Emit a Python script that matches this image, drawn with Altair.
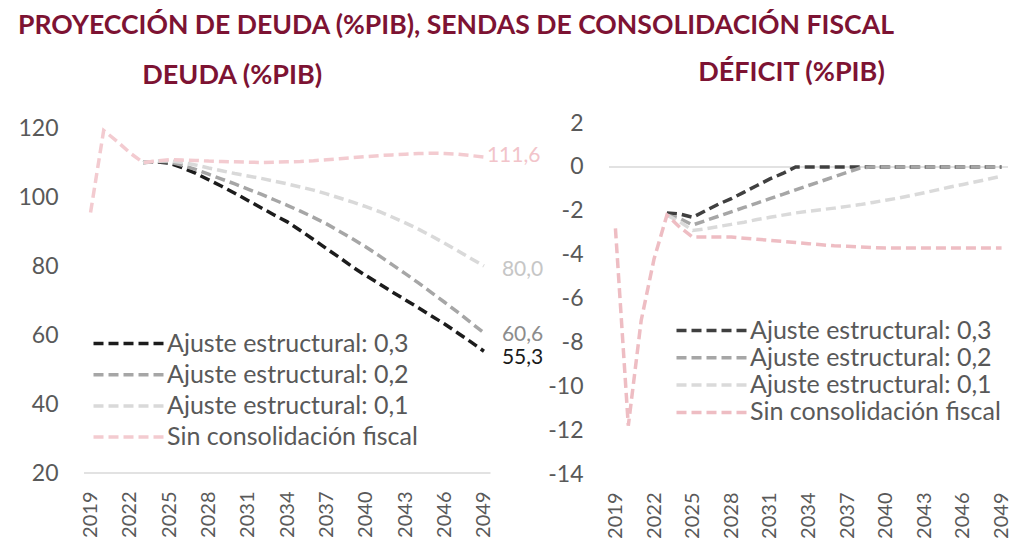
import altair as alt
import pandas as pd

# ---------------- data ----------------
years = list(range(2019, 2050))
adj_years = list(range(2023, 2050))
x_ticks = [2019, 2022, 2025, 2028, 2031, 2034, 2037, 2040, 2043, 2046, 2049]

series_names = [
    "Ajuste estructural: 0,3",
    "Ajuste estructural: 0,2",
    "Ajuste estructural: 0,1",
    "Sin consolidación fiscal",
]

# Deuda (%PIB)
debt_sin = [95.5, 119.3, 116.2, 112.8, 110.0, 110.4, 110.8, 110.7, 110.6, 110.4,
            110.3, 110.2, 110.1, 110.0, 110.1, 110.2, 110.3, 110.5, 110.8, 111.1,
            111.4, 111.7, 112.0, 112.2, 112.4, 112.6, 112.7, 112.6, 112.4, 112.0, 111.6]
debt_01 = [110.0, 110.4, 110.5, 110.0, 109.3, 108.4, 107.6, 106.8, 106.1, 105.4,
           104.6, 103.8, 102.9, 102.0, 100.9, 99.7, 98.5, 97.2, 95.8, 94.2,
           92.5, 90.7, 88.7, 86.6, 84.4, 82.2, 80.0]
debt_02 = [110.0, 110.3, 110.2, 109.2, 108.0, 106.6, 105.2, 103.8, 102.3, 100.8,
           99.2, 97.6, 95.9, 94.1, 92.2, 90.0, 87.8, 85.5, 83.0, 80.4,
           77.8, 75.1, 72.3, 69.5, 66.6, 63.6, 60.6]
debt_03 = [110.0, 110.2, 109.8, 108.5, 106.9, 105.0, 103.1, 101.1, 99.0, 96.9,
           94.8, 92.8, 90.3, 87.7, 85.0, 82.4, 79.7, 77.2, 74.9, 72.5,
           70.2, 67.9, 65.5, 63.2, 60.6, 58.0, 55.3]

# Déficit (%PIB)
def_sin = [-2.8, -11.8, -7.0, -4.2, -2.2, -2.75, -3.2, -3.2, -3.2, -3.2,
           -3.25, -3.3, -3.35, -3.4, -3.45, -3.5, -3.55, -3.6, -3.62, -3.65,
           -3.68, -3.7, -3.7, -3.7, -3.7, -3.7, -3.7, -3.7, -3.7, -3.7, -3.7]
def_01 = [-2.2, -2.5, -2.9, -2.82, -2.72, -2.62, -2.52, -2.4, -2.3, -2.2,
          -2.1, -2.02, -1.95, -1.88, -1.8, -1.72, -1.62, -1.52, -1.42, -1.3,
          -1.18, -1.05, -0.92, -0.8, -0.68, -0.55, -0.42]
def_02 = [-2.2, -2.35, -2.65, -2.45, -2.25, -2.05, -1.85, -1.65, -1.45, -1.25,
          -1.05, -0.85, -0.65, -0.45, -0.25, -0.05, 0.0, 0.0, 0.0, 0.0,
          0.0, 0.0, 0.0, 0.0, 0.0, 0.0, 0.0]
def_03 = [-2.1, -2.15, -2.3, -2.0, -1.7, -1.45, -1.15, -0.85, -0.55, -0.3,
          0.0, 0.0, 0.0, 0.0, 0.0, 0.0, 0.0, 0.0, 0.0, 0.0,
          0.0, 0.0, 0.0, 0.0, 0.0, 0.0, 0.0]


def long_df(parts):
    rows = []
    for name, yrs, vals in parts:
        for yr, v in zip(yrs, vals):
            rows.append({"serie": name, "year": yr, "value": v})
    return pd.DataFrame(rows)


debt_df = long_df([
    (series_names[0], adj_years, debt_03),
    (series_names[1], adj_years, debt_02),
    (series_names[2], adj_years, debt_01),
    (series_names[3], years, debt_sin),
])
def_df = long_df([
    (series_names[0], adj_years, def_03),
    (series_names[1], adj_years, def_02),
    (series_names[2], adj_years, def_01),
    (series_names[3], years, def_sin),
])

# ---------------- style ----------------
FONT = "Lato"
MAROON = "#7d1333"
AXIS_GREY = "#595959"
left_colors = ["#1c1c1c", "#a6a6a6", "#d9d9d9", "#f3cbd0"]
right_colors = ["#404040", "#a6a6a6", "#dadada", "#eebdc3"]
DASH = [10, 5]


def x_enc():
    return alt.X(
        "year:Q",
        scale=alt.Scale(domain=[2018.5, 2049.5], nice=False, zero=False),
        axis=alt.Axis(values=x_ticks, format="d", labelAngle=270, labelFontSize=20,
                      labelColor=AXIS_GREY, labelFont=FONT, ticks=False, grid=False,
                      labelPadding=18, title=None, domain=False),
    )


def legend(x, y, row_pad):
    return alt.Legend(
        title=None, orient="none", legendX=x, legendY=y,
        symbolType="M-5,0L5,0", symbolSize=196, symbolStrokeWidth=3.5,
        symbolDash=DASH, symbolFillColor="transparent",
        labelFontSize=25, labelColor=AXIS_GREY, labelFont=FONT,
        labelOffset=26, rowPadding=row_pad, padding=0, labelLimit=600,
    )


# ---------------- left panel: deuda ----------------
left_lines = alt.Chart(debt_df).mark_line(strokeWidth=3.5, strokeDash=DASH).encode(
    x=x_enc(),
    y=alt.Y("value:Q", scale=alt.Scale(domain=[20, 121.45], nice=False, zero=False),
            axis=alt.Axis(values=[20, 40, 60, 80, 100, 120], labelFontSize=23,
                          labelColor=AXIS_GREY, labelFont=FONT, ticks=False,
                          domain=False, grid=False, labelPadding=26, title=None)),
    color=alt.Color("serie:N", scale=alt.Scale(domain=series_names, range=left_colors),
                    legend=legend(32, 208, 5.2)),
)

base_line = alt.Chart(pd.DataFrame({"value": [20]})).mark_rule(
    color="#d9d9d9", strokeWidth=1.5).encode(y="value:Q")

end_specs = [
    (debt_sin, "#f2c4ca", 3, -1),
    (debt_01, "#c6c6c6", 18, 4),
    (debt_02, "#8c8c8c", 18, 2),
    (debt_03, "#1a1a1a", 18, 7),
]
end_layers = []
for vals, col, dx, dy in end_specs:
    d = pd.DataFrame({"year": [2049], "value": [vals[-1]],
                      "label": [f"{vals[-1]:.1f}".replace(".", ",")]})
    end_layers.append(
        alt.Chart(d).mark_text(align="left", baseline="middle", dx=dx, dy=dy,
                               fontSize=21, font=FONT, color=col)
        .encode(x="year:Q", y="value:Q", text="label:N")
    )

left = alt.layer(base_line, left_lines, *end_layers).properties(
    width=406.5, height=350,
    title=alt.TitleParams("DEUDA (%PIB)", anchor="middle", frame="group", dx=-55,
                          fontSize=27, font=FONT, fontWeight="bold", color=MAROON,
                          offset=27.5),
)

# ---------------- right panel: déficit ----------------
zero_line = alt.Chart(pd.DataFrame({"value": [0]})).mark_rule(
    color="#d9d9d9", strokeWidth=1.5).encode(y="value:Q")

right_lines = alt.Chart(def_df).mark_line(strokeWidth=3.5, strokeDash=DASH).encode(
    x=x_enc(),
    y=alt.Y("value:Q", scale=alt.Scale(domain=[-14, 2], nice=False, zero=False),
            axis=alt.Axis(values=list(range(-14, 3, 2)), labelFontSize=23,
                          labelExpr="'' + datum.value",
                          labelColor=AXIS_GREY, labelFont=FONT, ticks=False,
                          domain=False, grid=False, labelPadding=26, title=None)),
    color=alt.Color("serie:N", scale=alt.Scale(domain=series_names, range=right_colors),
                    legend=legend(90, 195, 1.3)),
)

right = alt.layer(zero_line, right_lines).properties(
    width=399, height=351,
    title=alt.TitleParams("DÉFICIT (%PIB)", anchor="middle", frame="group", dx=-17,
                          fontSize=27, font=FONT, fontWeight="bold", color=MAROON,
                          offset=25.5),
)

chart = alt.hconcat(left, right, spacing=118, bounds="flush").resolve_scale(
    color="independent"
).properties(
    title=alt.TitleParams("PROYECCIÓN DE DEUDA (%PIB), SENDAS DE CONSOLIDACIÓN FISCAL",
                          anchor="start", fontSize=26.6, font=FONT, fontWeight="bold",
                          color=MAROON, offset=19),
).configure(padding={"left": 9, "top": 4, "right": 0, "bottom": 0}).configure_view(stroke=None)

chart.save("out.html", embed_options={"renderer": "svg", "actions": False})
